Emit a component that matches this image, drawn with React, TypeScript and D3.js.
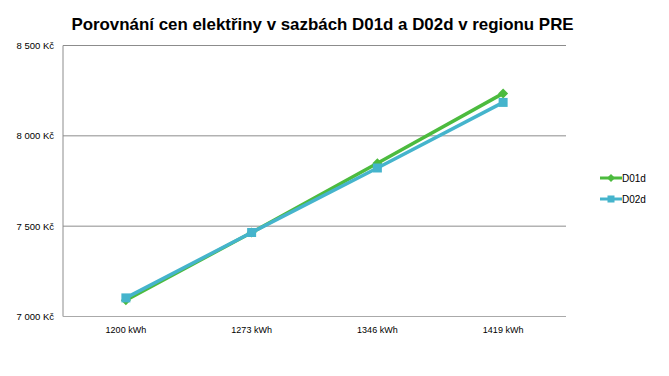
import React from "react";
import * as d3 from "d3";

const categories = ["1200 kWh", "1273 kWh", "1346 kWh", "1419 kWh"];
const seriesNames = ["D01d", "D02d"];
const d01d = [7090, 7465, 7848, 8235];
const d02d = [7103, 7465, 7822, 8185];
const yTicks = [7000, 7500, 8000, 8500];
const colors = ["#4cbb3e", "#45b4cc"];

const W = 669, H = 376;
const m = { left: 63, right: 566, top: 45.5, bottom: 316.5 };

export default function App() {
  const x = d3.scaleBand<string>().domain(categories).range([m.left, m.right]);
  const y = d3.scaleLinear().domain([7000, 8500]).range([m.bottom, m.top]);
  const line = d3
    .line<number>()
    .x((_, i) => x(categories[i])! + x.bandwidth() / 2)
    .y((v) => y(v));
  const fmt = (v: number) => d3.format(",")(v).replace(/,/g, " ") + " Kč";
  const series = [d01d, d02d];
  const font = "'Liberation Sans', Arial, sans-serif";

  const marker = (si: number, cx: number, cy: number, key: string) =>
    si === 0 ? (
      <path key={key} d={`M${cx},${cy - 5}L${cx + 5},${cy}L${cx},${cy + 5}L${cx - 5},${cy}Z`} fill={colors[0]} />
    ) : (
      <rect key={key} x={cx - 4.5} y={cy - 4.5} width={9} height={9} fill={colors[1]} />
    );

  return (
    <svg width={W} height={H} style={{ position: "absolute", left: 0, top: 0, background: "#fff" }} fontFamily={font}>
      <text x={322.5} y={30} textAnchor="middle" fontSize={16.9} fontWeight="bold" fill="#000">
        Porovnání cen elektřiny v sazbách D01d a D02d v regionu PRE
      </text>
      {yTicks.map((t) => (
        <g key={t}>
          {t !== 7000 && (
            <line x1={m.left} x2={m.right} y1={y(t)} y2={y(t)} stroke="#8c8c8c" strokeWidth={1} />
          )}
          <text x={54} y={y(t) + 3.5} textAnchor="end" fontSize={9.5} fill="#000">
            {fmt(t)}
          </text>
        </g>
      ))}
      <line x1={m.left} x2={m.left} y1={m.top} y2={m.bottom} stroke="#8c8c8c" />
      <line x1={m.left} x2={m.right} y1={m.bottom} y2={m.bottom} stroke="#aaaaaa" strokeWidth={1} />
      {categories.map((c) => (
        <text key={c} x={x(c)! + x.bandwidth() / 2} y={333} textAnchor="middle" fontSize={9} fill="#000">
          {c}
        </text>
      ))}
      {series.map((s, si) => (
        <g key={si}>
          <path d={line(s)!} fill="none" stroke={colors[si]} strokeWidth={3.5} />
          {s.map((v, i) => marker(si, x(categories[i])! + x.bandwidth() / 2, y(v), `${si}-${i}`))}
        </g>
      ))}
      {seriesNames.map((n, i) => {
        const ly = 178 + i * 21;
        return (
          <g key={n}>
            <line x1={600} x2={622} y1={ly} y2={ly} stroke={colors[i]} strokeWidth={3} />
            {i === 0 ? (
              <path d={`M611,${ly - 4}L615,${ly}L611,${ly + 4}L607,${ly}Z`} fill={colors[0]} />
            ) : (
              <rect x={607.5} y={ly - 3.5} width={7} height={7} fill={colors[1]} />
            )}
            <text x={622} y={ly + 4} fontSize={10} fill="#000">
              {n}
            </text>
          </g>
        );
      })}
    </svg>
  );
}
